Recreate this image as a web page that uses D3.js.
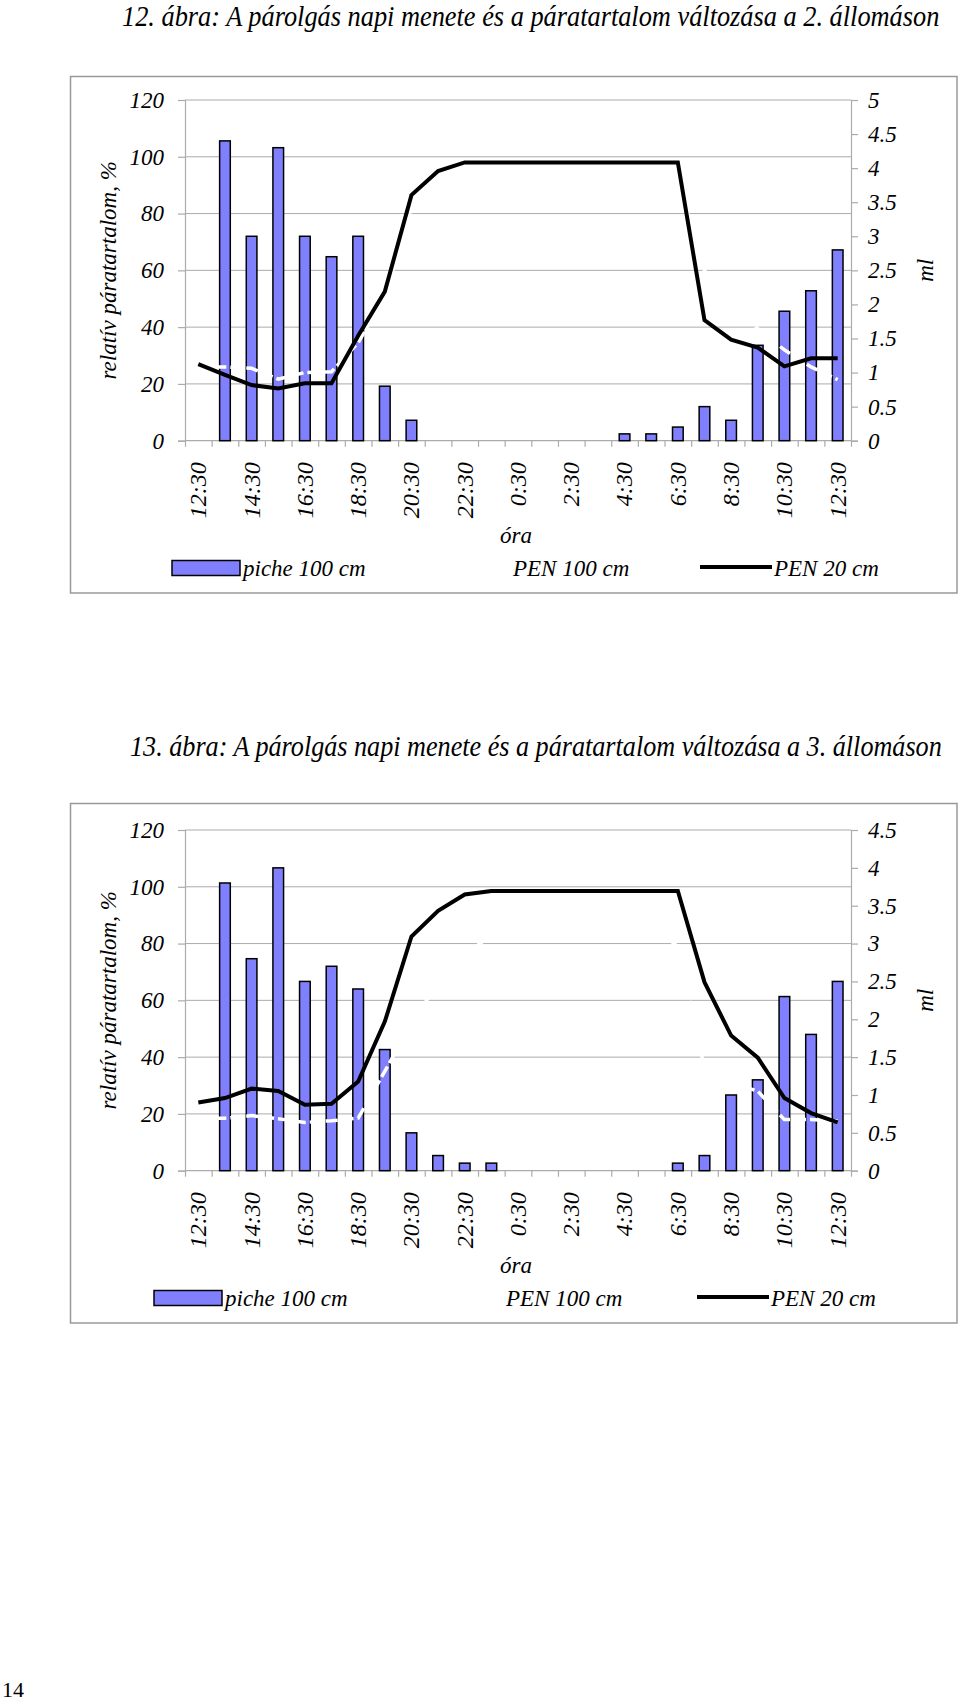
<!DOCTYPE html>
<html><head><meta charset="utf-8">
<script src="https://cdn.jsdelivr.net/npm/d3@7"></script>
<style>
html,body{margin:0;padding:0;background:#fff;}
svg{display:block;}
text{font-family:"Liberation Serif","Times New Roman",serif;}
</style></head>
<body>
<svg id="page" width="960" height="1702"></svg>
<script>
// ---- data ----
const hours = ["12:30","13:30","14:30","15:30","16:30","17:30","18:30","19:30","20:30","21:30","22:30","23:30",
               "0:30","1:30","2:30","3:30","4:30","5:30","6:30","7:30","8:30","9:30","10:30","11:30","12:30"];
const leftTicks = [0,20,40,60,80,100,120];
const rightTicks12 = [0,0.5,1,1.5,2,2.5,3,3.5,4,4.5,5];
const rightTicks13 = [0,0.5,1,1.5,2,2.5,3,3.5,4,4.5];

const title12 = "12. ábra: A párolgás napi menete és a páratartalom változása a 2. állomáson";
const title13 = "13. ábra: A párolgás napi menete és a páratartalom változása a 3. állomáson";
const yTitle = "relatív páratartalom, %";
const y2Title = "ml";
const xTitle = "óra";
const seriesNames = ["piche 100 cm", "PEN 100 cm", "PEN 20 cm"];

// station 2 (chart 12)
const piche12 = [null,4.4,3.0,4.3,3.0,2.7,3.0,0.8,0.3,null,null,null,null,null,null,null,0.1,0.1,0.2,0.5,0.3,1.4,1.9,2.2,2.8];
const pen100_12 = [26,26,25.5,21.7,24,24.3,34.5,51,81,90,93,94,94,94,94,94,94,94,92,60,48,39.5,32,26,21.5];
const pen20_12 = [27,23.2,19.6,18.4,20.2,20.2,37,52.5,86.5,95,98,98,98,98,98,98,98,98,98,42.5,35.6,32.8,26.2,29,29];

// station 3 (chart 13)
const piche13 = [null,3.8,2.8,4.0,2.5,2.7,2.4,1.6,0.5,0.2,0.1,0.1,null,null,null,null,null,null,0.1,0.2,1.0,1.2,2.3,1.8,2.5];
const pen100_13 = [18.5,18.5,19.4,18.3,17,17.6,18.5,35,52,66,76,83,86,87,87,87,87,86,79,36,31,28,18,18,17.5];
const pen20_13 = [24,25.6,28.9,28.1,23.2,23.6,31.4,52.5,82.5,91.5,97.3,98.5,98.5,98.5,98.5,98.5,98.5,98.5,98.5,66.4,47.6,39.8,25.6,20.3,17.0];

// ---- drawing ----
const svg = d3.select("#page");
const GRID = "#ababab";
const BAR = "#8080ff";
const FS = 23;

function fitText(sel, x, y, width) {
  const w = sel.node().getComputedTextLength();
  sel.attr("transform", `translate(${x},${y}) scale(${width / w},1)`);
}

function drawChart(o) {
  const g = svg.append("g");
  const left = 185, right = 851;
  const yTop = o.top + 23.5, y0 = o.top + 364.2;

  // title
  const t = g.append("text").attr("font-size", 29).attr("font-style", "italic").text(o.title);
  fitText(t, o.titleX, o.top - 50.5, o.titleLen);

  // frame
  g.append("rect").attr("x", 70.5).attr("y", o.frameTop).attr("width", 886.5)
    .attr("height", o.top + 516.5 - o.frameTop)
    .attr("fill", "none").attr("stroke", "#999").attr("stroke-width", 1.5);

  const x = d3.scaleBand().domain(d3.range(hours.length)).range([left, right]);
  const xb = d3.scaleLinear().domain([0, hours.length]).range([left, right]);
  const yL = d3.scaleLinear().domain([0, 120]).range([y0, yTop]);
  const yR = d3.scaleLinear().domain([0, o.rightMax]).range([y0, yTop]);

  // gridlines
  g.append("g").selectAll("line").data(leftTicks.filter(d => d > 0)).join("line")
    .attr("x1", left).attr("x2", right).attr("y1", d => yL(d)).attr("y2", d => yL(d))
    .attr("stroke", GRID).attr("stroke-width", 1);

  // left axis
  const ax = g.append("g").attr("transform", `translate(${left},0)`)
    .call(d3.axisLeft(yL).tickValues(leftTicks).tickSize(7).tickPadding(14).tickFormat(d3.format("d")));
  // right axis
  const ar = g.append("g").attr("transform", `translate(${right},0)`)
    .call(d3.axisRight(yR).tickValues(o.rightTicks).tickSize(7).tickPadding(10).tickFormat(d => String(d)));
  // bottom axis: boundary ticks
  const ab = g.append("g").attr("transform", `translate(0,${y0})`)
    .call(d3.axisBottom(xb).tickValues(d3.range(hours.length + 1)).tickSize(6).tickFormat(""));
  [ax, ar, ab].forEach(a => {
    a.select(".domain").attr("stroke", GRID).attr("stroke-width", 1.2);
    a.selectAll(".tick line").attr("stroke", GRID).attr("stroke-width", 1.2);
    a.selectAll("text").attr("font-size", FS).attr("font-style", "italic")
      .attr("font-family", "Liberation Serif, Times New Roman, serif").attr("fill", "#000");
  });
  ab.select(".domain").attr("d", `M${left},0H${right}`);

  // category labels
  g.append("g").selectAll("text").data(d3.range(hours.length).filter(i => i % 2 === 0)).join("text")
    .attr("transform", i => `translate(${x(i) + x.bandwidth() / 2},${y0 + 21.5}) rotate(-90)`)
    .attr("text-anchor", "end").attr("dy", "0.33em")
    .attr("font-size", 24).attr("font-style", "italic").text(i => hours[i]);

  // bars
  const bw = x.bandwidth() * 0.4;
  g.append("g").selectAll("rect").data(o.piche.map((v, i) => ({ v, i })).filter(d => d.v != null)).join("rect")
    .attr("x", d => x(d.i) + (x.bandwidth() - bw) / 2).attr("width", bw)
    .attr("y", d => yR(d.v)).attr("height", d => y0 - yR(d.v))
    .attr("fill", BAR).attr("stroke", "#000").attr("stroke-width", 1.5);

  // lines
  const line = d3.line().x((d, i) => x(i) + x.bandwidth() / 2).y(d => yL(d));
  g.append("path").datum(o.pen100).attr("d", line).attr("fill", "none")
    .attr("stroke", "#fff").attr("stroke-width", 3.5).attr("stroke-dasharray", "12,4");
  g.append("path").datum(o.pen20).attr("d", line).attr("fill", "none")
    .attr("stroke", "#000").attr("stroke-width", 4).attr("stroke-linejoin", "miter");

  // axis titles
  g.append("text").attr("transform", `translate(108,${(yTop + y0) / 2}) rotate(-90)`)
    .attr("text-anchor", "middle").attr("dy", "0.35em")
    .attr("font-size", FS).attr("font-style", "italic").text(yTitle);
  g.append("text").attr("transform", `translate(925,${(yTop + y0) / 2}) rotate(-90)`)
    .attr("text-anchor", "middle").attr("dy", "0.35em")
    .attr("font-size", FS).attr("font-style", "italic").text(y2Title);
  g.append("text").attr("x", 516).attr("y", o.top + 466.5).attr("text-anchor", "middle")
    .attr("font-size", FS).attr("font-style", "italic").text(xTitle);

  // legend
  const ly = o.top + 491.5, L = o.legend;
  g.append("rect").attr("x", L[0]).attr("y", ly - 7.5).attr("width", 68).attr("height", 15)
    .attr("fill", BAR).attr("stroke", "#000").attr("stroke-width", 1.5);
  g.append("text").attr("x", L[0] + 71).attr("y", ly + 8).attr("font-size", FS).attr("font-style", "italic").text(seriesNames[0]);
  g.append("line").attr("x1", L[1] - 72).attr("x2", L[1] - 3).attr("y1", ly).attr("y2", ly)
    .attr("stroke", "#fff").attr("stroke-width", 3.5).attr("stroke-dasharray", "12,4");
  g.append("text").attr("x", L[1]).attr("y", ly + 8).attr("font-size", FS).attr("font-style", "italic").text(seriesNames[1]);
  g.append("line").attr("x1", L[2]).attr("x2", L[2] + 72).attr("y1", ly - 1).attr("y2", ly - 1)
    .attr("stroke", "#000").attr("stroke-width", 4);
  g.append("text").attr("x", L[2] + 74).attr("y", ly + 8).attr("font-size", FS).attr("font-style", "italic").text(seriesNames[2]);
}

drawChart({ top: 76.5, frameTop: 76.5, title: title12, titleX: 122, titleLen: 818,
  rightMax: 5, rightTicks: rightTicks12, piche: piche12, pen100: pen100_12, pen20: pen20_12, legend: [172, 513, 700] });
drawChart({ top: 806.5, frameTop: 803.5, title: title13, titleX: 130, titleLen: 812,
  rightMax: 4.5, rightTicks: rightTicks13, piche: piche13, pen100: pen100_13, pen20: pen20_13, legend: [154, 506, 697] });

svg.append("text").attr("x", 2).attr("y", 1697).attr("font-size", 22).text("14");
</script>
</body></html>
